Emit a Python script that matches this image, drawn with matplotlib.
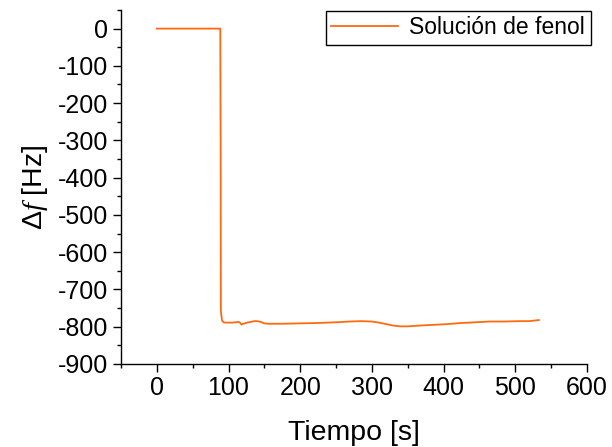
import matplotlib
matplotlib.use("Agg")
import matplotlib.pyplot as plt
from matplotlib.ticker import MultipleLocator

plt.rcParams['font.family'] = ['Liberation Sans', 'DejaVu Sans']
plt.rcParams['axes.unicode_minus'] = False
plt.rcParams['mathtext.fontset'] = 'custom'
plt.rcParams['mathtext.it'] = 'Liberation Serif:italic'
plt.rcParams['mathtext.rm'] = 'Liberation Sans'

# Data
tiempo = [0, 30, 60, 88.5, 89.0, 89.3, 90.0, 91.0, 93.0, 96, 100, 105, 110, 114,
          116, 118, 121, 126, 131, 136, 140, 145, 150, 155, 162, 175, 200, 225,
          250, 270, 285, 300, 310, 320, 330, 340, 350, 365, 385, 405, 425, 445,
          465, 485, 505, 520, 533]
delta_f = [0, 0, 0, 0, -300, -755, -770, -783, -788, -789, -789, -789, -788, -787,
           -789, -794, -792, -789, -787, -785, -785, -787, -791, -792, -792, -792,
           -791, -790, -788, -786, -785, -786, -789, -793, -797, -799, -799, -797,
           -795, -793, -790, -788, -786, -786, -785, -785, -782]

series_label = 'Solución de fenol'
x_label = 'Tiempo [s]'
y_label = r'$\mathit{\Delta f}$ [Hz]'

fig = plt.figure(figsize=(6.12, 4.47), dpi=100)
ax = fig.add_axes([0.1977, 0.1857, 0.7613, 0.792])

ax.plot(tiempo, delta_f, color='#FF6A10', lw=1.3, label=series_label)

ax.set_xlim(-50, 600)
ax.set_ylim(-900, 50)
ax.xaxis.set_minor_locator(MultipleLocator(50))
ax.yaxis.set_minor_locator(MultipleLocator(50))
ax.set_xticks(range(0, 601, 100))
ax.set_yticks(range(-900, 1, 100))

for s in ['top', 'right']:
    ax.spines[s].set_visible(False)
for s in ['left', 'bottom']:
    ax.spines[s].set_linewidth(1.0)

ax.tick_params(which='major', direction='out', length=6, width=1.0, labelsize=18, pad=3)
ax.tick_params(which='minor', direction='out', length=3, width=1.0)

ax.set_xlabel(x_label, fontsize=20.5, labelpad=14)
ax.set_ylabel(y_label, fontsize=20.5, labelpad=6)

leg = ax.legend(loc='upper right', bbox_to_anchor=(1.008, 0.998), fontsize=16.5,
                frameon=True, fancybox=False, edgecolor='black', framealpha=1,
                handlelength=2.9, borderpad=0.25, handletextpad=0.5, borderaxespad=0)
leg.get_frame().set_linewidth(1.0)

fig.savefig('out.png', dpi=100)
